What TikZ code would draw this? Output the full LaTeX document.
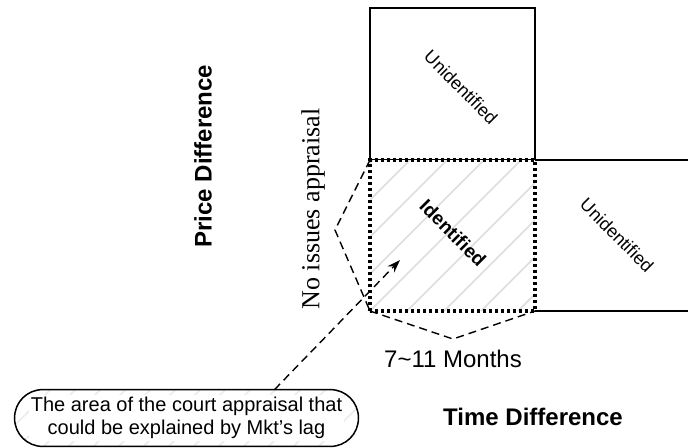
\documentclass[tikz,border=0pt]{standalone}
\usepackage{fontspec}
\setmainfont{Liberation Sans}
\newfontfamily\timesfont{Liberation Serif}
\usetikzlibrary{arrows.meta}
\usetikzlibrary{positioning}

\tikzset{
    cell/.style={draw, line width=0.75pt, minimum width=82.5pt, outer sep=0pt, inner sep=0pt},
    hatchline/.style={draw=black!13, line width=0.75pt},
    dashline/.style={draw, line width=0.7pt, dash pattern=on 4pt off 2.5pt},
    dotline/.style={line width=1.6pt, dash pattern=on 1.5pt off 1.5pt},
    boldlabel/.style={font=\bfseries\fontsize{12}{14}\selectfont},
    unidlabel/.style={font=\fontsize{9}{11}\selectfont, rotate=-45},
}

\begin{document}
\begin{tikzpicture}[x=0.5pt, y=-0.5pt]
    \useasboundingbox (0,0) rectangle (688,447);
    \pgfmathsetmacro{\gap}{37}
    \node[cell, minimum height=76pt] (topcell) at (452.5,84) {};
    \node[cell, minimum height=75.5pt, draw=none, fill=white, below=0pt of topcell] (identcell) {};
    \begin{scope}
        \clip (identcell.south west) rectangle (identcell.north east);
        \foreach \k in {-1,...,8}
            \draw[hatchline] (222+\k*\gap,311) -- ++(151,-151);
    \end{scope}
    \draw[line width=0.75pt] (identcell.north east) -- ++(153,0);
    \draw[line width=0.75pt] (identcell.south east) -- ++(153,0);
    \draw[dotline] (identcell.south west) rectangle (identcell.north east);
    \node[unidlabel] (unidtop) at (461,87) {Unidentified};
    \node[unidlabel] (unidright) at (617,235) {Unidentified};
    \node[font=\bfseries\fontsize{9.5}{11}\selectfont, rotate=-45] (identlabel) at (453,233) {Identified};
    \coordinate (leftbend) at (335,230);
    \draw[dashline] (identcell.north west) -- (leftbend) -- (identcell.south west);
    \coordinate (lowbend) at (453,339);
    \draw[dashline] (identcell.south west) -- (lowbend) -- (identcell.south east);
    \node[font=\fontsize{12}{14}\selectfont, below=2pt of lowbend] (months) {7\textasciitilde 11 Months};
    \node[font=\timesfont\fontsize{13}{15}\selectfont, rotate=90] (noissue) at (313,209) {No issues appraisal};
    \node[boldlabel, rotate=90] (pricediff) at (203,156) {Price Difference};
    \node[boldlabel] (timediff) at (533,417) {Time Difference};
    \node[minimum width=171.5pt, minimum height=28pt, inner sep=0pt] (note) at (186.5,418) {};
    \begin{scope}
        \clip[rounded corners=14pt] (note.south west) rectangle (note.north east);
        \foreach \k in {-3,...,16}
            \draw[hatchline, draw=black!8] (\k*25-60,450) -- ++(70,-70);
    \end{scope}
    \draw[line width=0.75pt, rounded corners=14pt] (note.south west) rectangle (note.north east);
    \node[fill=white, inner sep=1pt, align=center, font=\fontsize{10}{11.5}\selectfont] (notetext) at (note.center) {The area of the court appraisal that\\could be explained by Mkt's lag};
    \coordinate (lagtip) at (400,260);
    \draw[dashline, -{Stealth[length=6.5pt, width=4.5pt]}] ([xshift=44pt]note.north) -- (lagtip);
\end{tikzpicture}
\end{document}
